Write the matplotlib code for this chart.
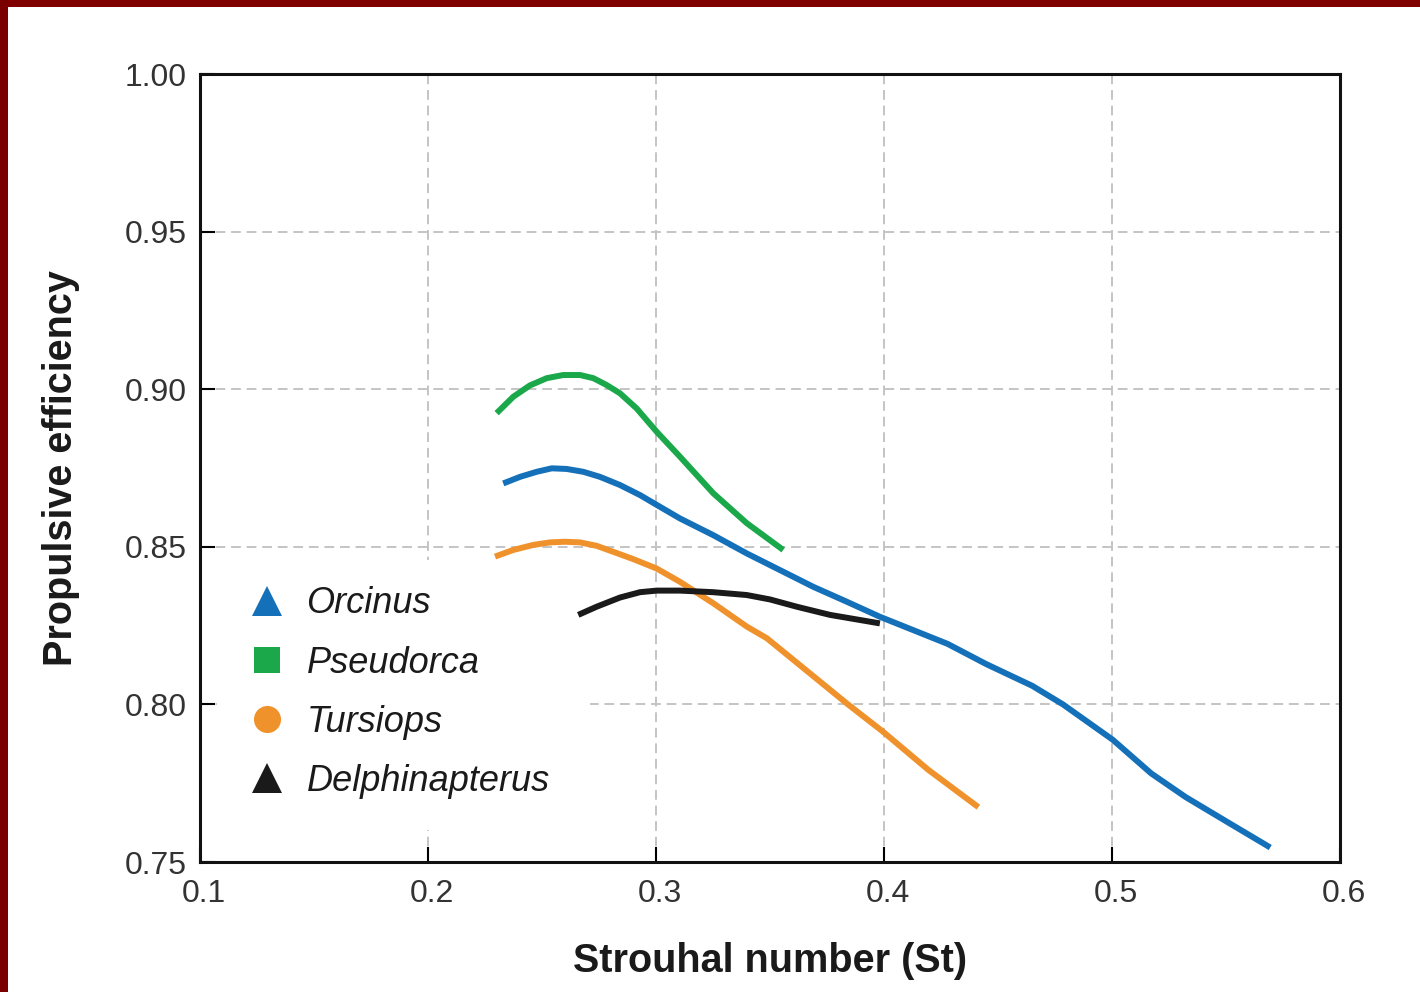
import matplotlib.pyplot as plt
import matplotlib.transforms as mtransforms
from matplotlib.lines import Line2D
from matplotlib.patches import Rectangle

plt.rcParams['font.family'] = ['Liberation Sans', 'DejaVu Sans']

# --- data ---
orcinus_st = [0.2330, 0.2404, 0.2477, 0.2543, 0.2608, 0.2681, 0.2754, 0.2842, 0.2930,
              0.3003, 0.3105, 0.3251, 0.3398, 0.3544, 0.3690, 0.3836, 0.3982, 0.4279,
              0.4448, 0.4650, 0.4785, 0.5003, 0.5172, 0.5323, 0.5508, 0.5694]
orcinus_eff = [0.8701, 0.8722, 0.8738, 0.8749, 0.8747, 0.8738, 0.8722, 0.8696, 0.8664,
               0.8633, 0.8590, 0.8537, 0.8479, 0.8426, 0.8373, 0.8326, 0.8278, 0.8192,
               0.8128, 0.8059, 0.8000, 0.7888, 0.7781, 0.7706, 0.7626, 0.7546]

pseudorca_st = [0.2301, 0.2374, 0.2447, 0.2521, 0.2593, 0.2667, 0.2725, 0.2784,
                0.2842, 0.2915, 0.3003, 0.3105, 0.3251, 0.3398, 0.3558]
pseudorca_eff = [0.8924, 0.8976, 0.9012, 0.9035, 0.9045, 0.9045, 0.9035, 0.9013,
                 0.8987, 0.8939, 0.8865, 0.8786, 0.8670, 0.8575, 0.8490]

tursiops_st = [0.2294, 0.2374, 0.2462, 0.2535, 0.2601, 0.2667, 0.2740, 0.2813, 0.2900,
               0.3003, 0.3105, 0.3251, 0.3398, 0.3486, 0.3842, 0.3993, 0.4195, 0.4414]
tursiops_eff = [0.8469, 0.8490, 0.8506, 0.8514, 0.8516, 0.8514, 0.8503, 0.8484, 0.8461,
                0.8431, 0.8389, 0.8321, 0.8247, 0.8210, 0.8000, 0.7915, 0.7792, 0.7674]

delph_st = [0.2659, 0.2740, 0.2842, 0.2930, 0.3003, 0.3105, 0.3251, 0.3398,
            0.3500, 0.3617, 0.3763, 0.3982]
delph_eff = [0.8284, 0.8310, 0.8339, 0.8356, 0.8361, 0.8361, 0.8356, 0.8347,
             0.8333, 0.8310, 0.8284, 0.8257]

species = ['Orcinus', 'Pseudorca', 'Tursiops', 'Delphinapterus']
colors = ['#1470b8', '#1aa84a', '#f0922c', '#1a1a1a']
markers = ['^', 's', 'o', '^']
marker_sizes = [22, 19, 19.5, 22]

x_ticks = [0.1, 0.2, 0.3, 0.4, 0.5, 0.6]
y_ticks = [0.75, 0.80, 0.85, 0.90, 0.95, 1.00]

fig = plt.figure(figsize=(14.2, 9.92), dpi=100)
ax = fig.add_axes([200/1420, 1 - 862/992, 1140/1420, 788/992])

# dark red frame on top and left edges
fig.patches.append(Rectangle((0, 1 - 7/992), 1, 7/992, transform=fig.transFigure,
                             facecolor='#800000', edgecolor='none'))
fig.patches.append(Rectangle((0, 0), 8/1420, 1, transform=fig.transFigure,
                             facecolor='#7a0000', edgecolor='none'))

series = [(orcinus_st, orcinus_eff), (pseudorca_st, pseudorca_eff),
          (tursiops_st, tursiops_eff), (delph_st, delph_eff)]
for (xs, ys), c in zip(series, colors):
    ax.plot(xs, ys, color=c, lw=4.3, solid_capstyle='butt',
            solid_joinstyle='round', zorder=3)

ax.set_xlim(0.1, 0.6)
ax.set_ylim(0.75, 1.00)
ax.set_xticks(x_ticks)
ax.set_xticklabels([f'{v:g}' for v in x_ticks])
ax.set_yticks(y_ticks)
ax.set_yticklabels([f'{v:.2f}' for v in y_ticks])

ax.set_axisbelow(True)
ax.grid(True, color='#c4c4c4', linestyle=(0, (5, 3)), lw=1.4)
ax.tick_params(direction='in', length=11, width=1.5, color='black',
               labelsize=23, labelcolor='#333333', pad=9.5)
ax.tick_params(axis='x', pad=12)
for s in ax.spines.values():
    s.set_linewidth(2.2)
    s.set_color('#111111')

# x tick labels sit a little to the right of their ticks
shift = mtransforms.ScaledTranslation(4/100, 0, fig.dpi_scale_trans)
for lab in ax.get_xticklabels():
    lab.set_transform(lab.get_transform() + shift)

ax.set_xlabel('Strouhal number (St)', fontsize=28.5, fontweight='bold', color='#1a1a1a')
ax.set_ylabel('Propulsive efficiency', fontsize=28.5, fontweight='bold', color='#1a1a1a')
ax.xaxis.set_label_coords(0.5, -0.101)
ax.yaxis.set_label_coords(-0.105, 0.5)

# white box behind the legend hides the grid there
ax.add_patch(Rectangle((0.015, 0.041), 0.327, 0.342, transform=ax.transAxes,
                       facecolor='white', edgecolor='none', zorder=1))

handles = [Line2D([], [], ls='none', marker=m, ms=ms, color=c, markeredgewidth=0)
           for m, ms, c in zip(markers, marker_sizes, colors)]
leg = ax.legend(handles, species, loc='upper left', bbox_to_anchor=(0.030, 0.368),
                frameon=False, prop={'size': 26, 'style': 'italic'},
                handlelength=1.0, handletextpad=0.6, labelspacing=0.67,
                borderaxespad=0, borderpad=0.4)
for t in leg.get_texts():
    t.set_color('#1a1a1a')

fig.savefig('out.png', dpi=100)
